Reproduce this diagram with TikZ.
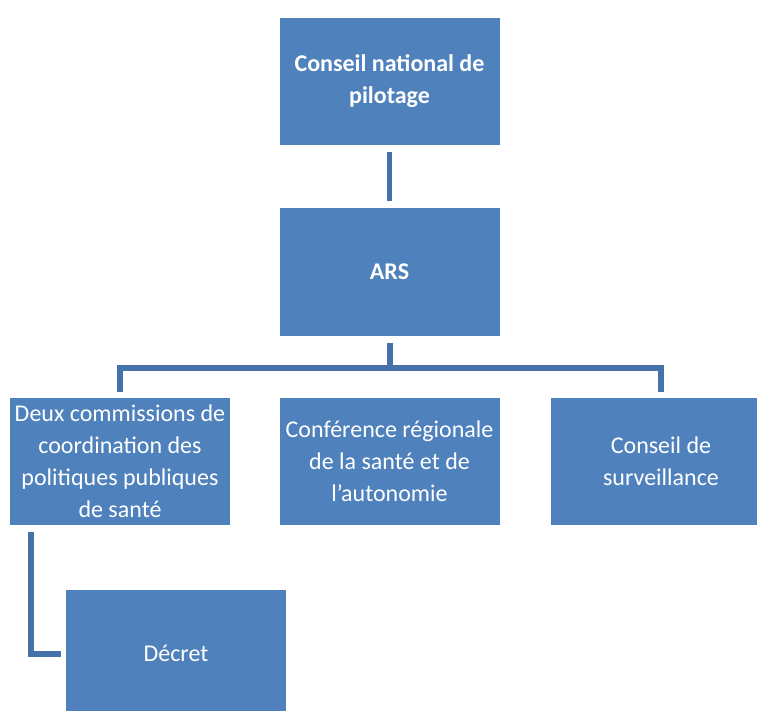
\documentclass[tikz,border=0pt]{standalone}
\usepackage{fontspec}
\setmainfont{Carlito}
\definecolor{boxblue}{HTML}{4F81BD}
\definecolor{lineblue}{HTML}{4572A8}
\begin{document}
\begin{tikzpicture}[x=1pt,y=-1pt,
  box/.style={rectangle, fill=boxblue, draw=none, text=white, align=center,
    minimum width=220pt, minimum height=127pt, inner sep=0pt,
    font=\fontsize{24}{32}\selectfont},
  conn/.style={draw=lineblue, line width=6pt}]
\useasboundingbox (0,0) rectangle (757,711);
\clip (0,0) rectangle (757,711);
\fill[white] (0,0) rectangle (757,711);
\node[box, font=\fontsize{24}{32}\selectfont\bfseries] (pil) at (389.5,81.5) {Conseil national de\\pilotage};
\node[box, font=\fontsize{24}{32}\selectfont\bfseries] (ars) at (389.5,272) {ARS};
\node[box] (deux) at (120,461.5) {Deux commissions de\\coordination des\\politiques publiques\\de santé};
\node[box] (conf) at (389.5,461.5) {Conférence régionale\\de la santé et de\\l’autonomie};
\node[box] (surv) at (661,461.5) {Conseil de\\surveillance};
\node[box] (dec) at (176,653.5) {Décret};
\coordinate (bus) at (389.5,368);
\draw[conn, line width=5pt, shorten <=7pt, shorten >=7pt] (pil) -- (ars);
\draw[conn] ([yshift=-7pt]ars.south) -- (bus);
\draw[conn] ([yshift=6pt]deux.north) |- (bus) -| ([yshift=6pt]surv.north);
\draw[conn] ([xshift=-89pt,yshift=-7pt]deux.south) |- ([xshift=-5pt]dec.west);
\end{tikzpicture}
\end{document}
